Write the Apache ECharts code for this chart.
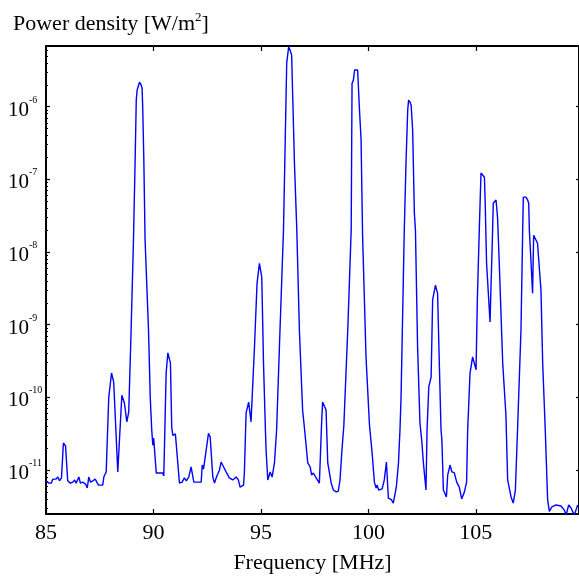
<!DOCTYPE html>
<html><head><meta charset="utf-8">
<script src="https://cdn.jsdelivr.net/npm/echarts@6/dist/echarts.min.js"></script>
<style>html,body{margin:0;padding:0;background:#fff}#c{width:579px;height:578px}</style>
</head><body><div id="c"></div>
<script>
// Frequency (MHz)
const freqMHz = [
85.00,85.13,85.24,85.32,85.47,85.55,85.63,85.72,85.81,85.91,
86.01,86.13,86.25,86.33,86.40,86.53,86.60,86.71,86.84,86.92,
86.99,87.07,87.18,87.29,87.38,87.44,87.64,87.69,87.80,87.92,
88.05,88.15,88.34,88.45,88.53,88.65,88.76,88.85,88.96,89.07,
89.15,89.20,89.24,89.35,89.43,89.47,89.50,89.55,89.61,89.77,
89.85,89.92,89.97,90.01,90.13,90.43,90.48,90.53,90.59,90.67,
90.79,90.85,90.90,91.02,91.21,91.33,91.44,91.53,91.64,91.75,
91.83,91.88,92.22,92.27,92.33,92.37,92.56,92.64,92.76,92.84,
92.92,92.99,93.07,93.15,93.38,93.53,93.69,93.85,93.95,94.03,
94.11,94.19,94.23,94.31,94.43,94.54,94.70,94.82,94.93,95.04,
95.12,95.21,95.24,95.32,95.43,95.52,95.63,95.73,95.86,96.05,
96.14,96.20,96.29,96.36,96.43,96.48,96.56,96.67,96.79,96.94,
97.02,97.18,97.29,97.36,97.44,97.57,97.72,97.83,97.87,98.03,
98.11,98.27,98.37,98.50,98.60,98.68,98.76,98.86,99.04,99.20,
99.24,99.30,99.36,99.43,99.50,99.58,99.66,99.73,99.89,100.05,
100.17,100.28,100.36,100.40,100.48,100.64,100.74,100.84,100.93,101.07,
101.16,101.30,101.40,101.47,101.52,101.67,101.75,101.83,101.87,101.94,
101.99,102.06,102.14,102.19,102.29,102.40,102.48,102.56,102.68,102.73,
102.81,102.92,102.99,103.12,103.22,103.30,103.38,103.42,103.49,103.63,
103.69,103.80,103.89,104.00,104.11,104.23,104.34,104.47,104.57,104.62,
104.73,104.85,104.93,105.01,105.07,105.16,105.24,105.32,105.40,105.44,
105.50,105.66,105.78,105.81,105.86,105.94,106.01,106.09,106.25,106.40,
106.48,106.64,106.74,106.84,106.94,107.10,107.18,107.21,107.33,107.41,
107.46,107.49,107.57,107.64,107.69,107.77,107.87,108.03,108.11,108.23,
108.34,108.42,108.54,108.73,108.96,109.12,109.20,109.32,109.43,109.58,
109.74
];
// Power density (W/m^2)
const powerWm2 = [
7.1e-12,6.6e-12,6.6e-12,7.5e-12,7.5e-12,8.0e-12,7.1e-12,7.8e-12,2.35e-11,2.14e-11,
7.1e-12,6.6e-12,6.8e-12,7.3e-12,6.6e-12,8.0e-12,6.6e-12,6.8e-12,6.4e-12,5.65e-12,
8.0e-12,6.8e-12,7.1e-12,7.5e-12,7.3e-12,6.2e-12,6.2e-12,8.0e-12,9.4e-12,1.0e-10,
2.16e-10,1.62e-10,9.4e-12,3.9e-11,1.07e-10,8.3e-11,4.6e-11,6.3e-11,8.4e-10,1.46e-8,
2.02e-7,1.23e-6,1.69e-6,2.17e-6,1.98e-6,1.8e-6,9.8e-7,2.02e-7,1.46e-8,8.4e-10,
1.0e-10,3.55e-11,2.2e-11,2.75e-11,9.1e-12,9.1e-12,8.3e-12,3.55e-11,2.16e-10,4.1e-10,
2.96e-10,3.9e-11,3.0e-11,3.13e-11,6.6e-12,6.8e-12,7.8e-12,7.1e-12,8.0e-12,1.1e-11,
1.07e-11,6.8e-12,6.8e-12,1.17e-11,1.03e-11,1.07e-11,3.2e-11,2.85e-11,8.0e-12,6.6e-12,
7.8e-12,7.8e-12,1.0e-11,1.29e-11,9.4e-12,7.8e-12,7.3e-12,8.0e-12,7.3e-12,5.8e-12,
5.5e-12,6.2e-12,9.1e-12,6.1e-11,8.6e-11,4.6e-11,4.9e-10,3.7e-9,7.0e-9,4.5e-9,
2.96e-10,3.55e-11,1.88e-11,7.3e-12,9.4e-12,8.0e-12,1.25e-11,3.55e-11,4.9e-10,2.0e-8,
4.75e-7,4.0e-6,6.6e-6,5.98e-6,5.1e-6,1.35e-6,1.67e-7,2.0e-8,8.4e-10,6.7e-11,
3.9e-11,1.25e-11,1.1e-11,8.5e-12,9.1e-12,7.8e-12,6.6e-12,4.9e-11,8.6e-11,6.7e-11,
1.25e-11,6.6e-12,5.3e-12,5.0e-12,5.1e-12,7.3e-12,1.7e-11,4.2e-11,8.4e-10,2.0e-8,
2.1e-6,2.3e-6,3.2e-6,3.4e-6,3.2e-6,9.8e-7,3.5e-7,1.7e-8,3.6e-10,4.2e-11,
1.77e-11,6.8e-12,5.65e-12,6.2e-12,5.3e-12,5.5e-12,7.3e-12,1.29e-11,4.1e-12,3.9e-12,
3.5e-12,5.8e-12,1.25e-11,3.55e-11,1.0e-10,2.0e-8,1.67e-7,9.0e-7,1.23e-6,1.15e-6,
1.05e-6,4.75e-7,3.4e-8,2.0e-8,4.9e-10,4.4e-11,2.6e-11,1.25e-11,5.3e-12,3.55e-11,
1.39e-10,1.9e-10,2.2e-9,3.5e-9,2.7e-9,2.96e-10,3.55e-11,2.6e-11,5.3e-12,4.25e-12,
8.5e-12,1.17e-11,9.4e-12,9.1e-12,6.8e-12,5.8e-12,4.0e-12,5.0e-12,6.8e-12,3.55e-11,
2.16e-10,3.6e-10,3.5e-10,2.4e-10,2.2e-9,2.0e-8,1.22e-7,1.22e-7,1.07e-7,4.15e-8,
7.0e-9,1.09e-9,2.0e-8,4.7e-8,5.0e-8,5.2e-8,3.0e-8,7.0e-9,2.96e-10,5.7e-11,
7.3e-12,4.25e-12,3.5e-12,5.3e-12,3.55e-11,8.4e-10,2.0e-8,5.7e-8,5.7e-8,5.2e-8,
4.7e-8,2.0e-8,7.0e-9,2.7e-9,1.7e-8,1.76e-8,1.32e-8,3.0e-9,2.96e-10,3.55e-11,
3.9e-12,2.7e-12,3.1e-12,3.3e-12,3.2e-12,2.8e-12,2.4e-12,3.3e-12,3.0e-12,2.4e-12,
3.3e-12
];
const xTickValues = [85, 90, 95, 100, 105];
const xTopTickValues = [90, 95, 100, 105];
const yDecadeExponents = [-11, -10, -9, -8, -7, -6];
const xRange = [85, 109.8];
const yRange = [2.48e-12, 6.84e-6];
const xTitle = 'Frequency [MHz]';
const yTitleMain = 'Power density [W/m';
const yTitleSup = '2';
const yTitleEnd = ']';

const FONT = "'Liberation Serif','Times New Roman',serif";
const yMin = Math.log10(yRange[0]);
const yMax = Math.log10(yRange[1]);
const minorVals = [];
for (let n = -12; n <= -6; n++) {
  for (let k = 2; k <= 9; k++) {
    const v = n + Math.log10(k);
    if (v > yMin && v < yMax) minorVals.push(v);
  }
}
const seriesData = freqMHz.map((f, i) => [f, Math.log10(powerWm2[i])]);

const chart = echarts.init(document.getElementById('c'), null, {renderer: 'canvas'});
const axisLine = {show: true, lineStyle: {color: '#000', width: 2}};
chart.setOption({
  animation: false,
  backgroundColor: '#fff',
  title: {
    text: '{a|' + yTitleMain + '}{s|' + yTitleSup + '}{a|' + yTitleEnd + '}',
    left: 8, top: 6,
    textStyle: {
      fontWeight: 'normal',
      rich: {
        a: {fontFamily: FONT, fontSize: 22, fontWeight: 'normal', color: '#000', lineHeight: 26},
        s: {fontFamily: FONT, fontSize: 13, fontWeight: 'normal', color: '#000', verticalAlign: 'top', lineHeight: 14}
      }
    }
  },
  grid: {left: 46, right: 0, top: 46, bottom: 64, containLabel: false, outerBoundsMode: 'none'},
  xAxis: [
    {
      type: 'value', min: xRange[0], max: xRange[1], position: 'bottom',
      name: xTitle, nameLocation: 'middle', nameGap: 38,
      nameTextStyle: {fontFamily: FONT, fontSize: 22, color: '#000'},
      axisLine: axisLine,
      axisTick: {show: true, inside: true, length: 5, lineStyle: {color: '#000', width: 1.2}, customValues: xTickValues},
      axisLabel: {fontFamily: FONT, fontSize: 22, color: '#000', margin: 8, customValues: xTickValues},
      splitLine: {show: false}
    },
    {
      type: 'value', min: xRange[0], max: xRange[1], position: 'top',
      axisLine: axisLine,
      axisTick: {show: true, inside: true, length: 5, lineStyle: {color: '#000', width: 1.2}, customValues: xTopTickValues},
      axisLabel: {show: false},
      splitLine: {show: false}
    }
  ],
  yAxis: [
    {
      type: 'value', min: yMin, max: yMax, position: 'left',
      axisLine: axisLine,
      axisTick: {show: true, inside: true, length: 4, lineStyle: {color: '#000', width: 1.2}, customValues: yDecadeExponents},
      axisLabel: {
        customValues: yDecadeExponents, margin: 38, align: 'left',
        padding: [7, 0, 0, 0],
        formatter: function (v) { return '{b|10}{s|' + Math.round(v) + '}'; },
        rich: {
          b: {fontFamily: FONT, fontSize: 21, color: '#000', lineHeight: 30},
          s: {fontFamily: FONT, fontSize: 10, color: '#000', verticalAlign: 'top', lineHeight: 10}
        }
      },
      splitLine: {show: false}
    },
    {
      type: 'value', min: yMin, max: yMax, position: 'left',
      axisLine: {show: false},
      axisTick: {show: true, inside: true, length: 2, lineStyle: {color: '#000', width: 1}, customValues: minorVals},
      axisLabel: {show: false},
      splitLine: {show: false}
    },
    {
      type: 'value', min: yMin, max: yMax, position: 'right',
      axisLine: axisLine,
      axisTick: {show: true, inside: true, length: 3, lineStyle: {color: '#000', width: 1.2}, customValues: yDecadeExponents},
      axisLabel: {show: false},
      splitLine: {show: false}
    }
  ],
  series: [{
    type: 'line', xAxisIndex: 0, yAxisIndex: 0,
    data: seriesData, showSymbol: false, symbol: 'none',
    lineStyle: {color: '#0000ff', width: 1.4}, clip: true
  }]
});
</script>
</body></html>
